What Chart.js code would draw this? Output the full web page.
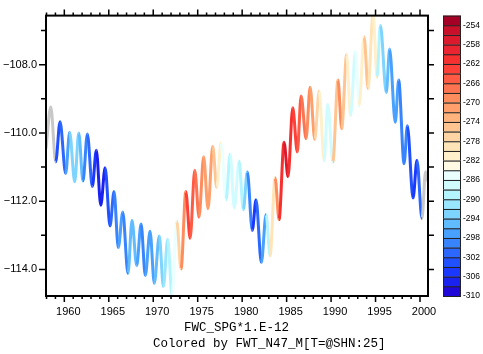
<!DOCTYPE html>
<html>
<head>
<meta charset="utf-8">
<script src="https://cdn.jsdelivr.net/npm/chart.js@4.4.1/dist/chart.umd.min.js"></script>
<style>
html, body { margin: 0; padding: 0; background: #fff; }
canvas { display: block; }
</style>
</head>
<body>
<canvas id="graficoFwc" width="483" height="354"></canvas>
<script>
// turning points of FWC_SPG*1.E-12 (decimal year, value) and colour variable at each point
const anos = [
  1957.94, 1958.48, 1959.03, 1959.52, 1960.15, 1960.60, 1961.17, 1961.62, 1962.10, 1962.59,
  1963.15, 1963.60, 1964.10, 1964.59, 1965.14, 1965.59, 1966.07, 1966.57, 1967.16, 1967.61,
  1968.14, 1968.63, 1969.11, 1969.64, 1970.12, 1970.68, 1971.14, 1971.63, 1972.11, 1972.64,
  1973.13, 1973.66, 1974.15, 1974.67, 1975.15, 1975.67, 1976.16, 1976.69, 1977.14, 1977.63,
  1978.19, 1978.65, 1979.12, 1979.65, 1980.13, 1980.58, 1981.14, 1981.56, 1982.16, 1982.69,
  1983.14, 1983.70, 1984.15, 1984.71, 1985.16, 1985.69, 1986.20, 1986.63, 1987.19, 1987.64,
  1988.17, 1988.66, 1989.22, 1989.63, 1990.20, 1990.77, 1991.20, 1991.75, 1992.19, 1992.74,
  1993.15, 1993.71, 1994.16, 1994.72, 1995.17, 1995.54, 1996.21, 1996.58, 1997.22, 1997.60,
  1998.21, 1998.58, 1999.22, 1999.66, 2000.22, 2000.62, 2000.90
];
const fwc = [
  -110.46, -109.24, -110.85, -109.67, -111.19, -109.98, -111.43, -110.00, -111.41, -110.03,
  -111.57, -110.51, -112.12, -111.02, -112.73, -111.72, -113.36, -112.32, -114.12, -112.57,
  -113.89, -112.67, -114.18, -112.88, -114.41, -113.02, -114.50, -113.12, -114.76, -112.59,
  -113.99, -111.72, -113.09, -111.09, -112.47, -110.70, -112.22, -110.39, -111.60, -110.29,
  -111.96, -110.62, -112.20, -110.82, -112.25, -111.14, -112.86, -111.96, -113.80, -112.39,
  -113.60, -111.31, -112.54, -110.27, -111.28, -109.26, -110.56, -108.92, -110.17, -108.66,
  -110.19, -108.77, -110.82, -109.16, -110.85, -108.45, -109.88, -107.71, -109.50, -107.61,
  -109.21, -107.18, -108.70, -106.50, -108.36, -106.84, -108.82, -107.54, -109.69, -108.45,
  -110.90, -109.79, -111.91, -110.80, -112.51, -111.14, -111.43
];
const fwt = [
  null, null, -303, -301, -297, -293, -293, -295, -299, -301,
  -305, -307, -307, -303, -301, -299, -297, -299, -295, -295,
  -297, -299, -297, -297, -295, -293, -291, -289, -285, -277,
  -269, -263, -265, -267, -269, -271, -271, -275, -281, -285,
  -289, -287, -287, -289, -293, -299, -305, -301, -297, -289,
  -279, -269, -261, -257, -261, -263, -265, -267, -269, -271,
  -277, -281, -287, -287, -275, -269, -275, -281, -287, -285,
  -281, -275, -279, -281, -289, -293, -295, -297, -297, -299,
  -299, -303, -305, -301, null, null, null
];

// colour key: boundaries and one colour per box, top (high) to bottom (low)
const niveis = [];
for (let n = -254; n >= -310; n -= 2) niveis.push(n);
const cores = [
  '#a50026', '#c8102a', '#dc1a2e', '#ea2430', '#f6302f', '#fe4038', '#ff5a44', '#ff7450',
  '#ff8c5c', '#ffa06c', '#ffb47e', '#ffc490', '#ffd4a4', '#ffe4b8', '#fff0cc', '#fffae4',
  '#eaffff', '#d0fcff', '#b4f4ff', '#98e6ff', '#7cd4ff', '#60bcff', '#48a0ff', '#3884ff',
  '#2c68ff', '#2050ff', '#1a38ff', '#1a22f0', '#2008d8'
];
const semValor = '#c8c8c8';

function corDe(v) {
  if (v === null || v === undefined) return semValor;
  let i = 0;
  while (i < niveis.length && v <= niveis[i]) i++;
  return cores[Math.min(i, cores.length - 1)];
}

const moldura = {
  id: 'moldura',
  afterDraw(chart) {
    const { ctx, chartArea: a, scales: { x, y } } = chart;
    ctx.save();
    ctx.strokeStyle = '#000';
    ctx.lineWidth = 1.5;
    ctx.beginPath();
    for (let ano = Math.ceil(x.min); ano <= x.max; ano++) {
      const px = x.getPixelForValue(ano);
      const len = ano % 5 === 0 ? 6 : 3;
      ctx.moveTo(px, a.bottom); ctx.lineTo(px, a.bottom + len);
      ctx.moveTo(px, a.top); ctx.lineTo(px, a.top - len);
    }
    for (let v = Math.ceil(y.min); v <= y.max; v++) {
      const py = y.getPixelForValue(v);
      const len = v % 2 === 0 ? 7 : 5;
      ctx.moveTo(a.left, py); ctx.lineTo(a.left - len, py);
      ctx.moveTo(a.right, py); ctx.lineTo(a.right + 6, py);
    }
    ctx.stroke();
    ctx.lineWidth = 2;
    ctx.strokeRect(a.left, a.top, a.width, a.height);

    // colour key
    const kx = 443, kw = 18, kh = a.height / cores.length;
    ctx.lineWidth = 1;
    ctx.strokeStyle = '#222';
    cores.forEach((c, i) => {
      ctx.fillStyle = c;
      ctx.fillRect(kx, a.top + i * kh, kw, kh);
      ctx.strokeRect(kx + 0.5, a.top + i * kh + 0.5, kw - 1, kh);
    });
    ctx.fillStyle = '#000';
    ctx.font = "8.5px 'Liberation Sans', Arial, sans-serif";
    ctx.textAlign = 'left';
    ctx.textBaseline = 'middle';
    niveis.forEach((n, k) => {
      if (k % 2 === 0) ctx.fillText(String(n), kx + kw + 2, a.top + (k + 1) * kh);
    });

    // labels under the plot
    ctx.font = "12.5px 'Liberation Mono', 'DejaVu Sans Mono', monospace";
    ctx.fillText('FWC_SPG*1.E-12', 184, 328);
    ctx.fillText('Colored by FWT_N47_M[T=@SHN:25]', 153, 343.5);
    ctx.restore();
  }
};

Chart.defaults.font.family = "'Liberation Sans', Arial, sans-serif";
Chart.defaults.font.size = 11;
Chart.defaults.color = '#000';

const ctx = document.getElementById('graficoFwc').getContext('2d');
new Chart(ctx, {
  type: 'line',
  data: {
    datasets: [{
      data: anos.map((a, i) => ({ x: a, y: fwc[i] })),
      borderWidth: 3,
      pointRadius: 0,
      cubicInterpolationMode: 'monotone',
      clip: 0,
      segment: {
        borderColor: c => corDe(fwt[c.p0DataIndex])
      }
    }]
  },
  options: {
    responsive: false,
    animation: false,
    layout: { padding: { top: 12, right: 55, left: 0, bottom: 0 } },
    plugins: { legend: { display: false }, tooltip: { enabled: false } },
    scales: {
      x: {
        type: 'linear',
        min: 1957.94,
        max: 2000.9,
        afterFit: s => { s.height = 58; },
        grid: { display: false, drawTicks: false },
        border: { display: false },
        ticks: {
          stepSize: 5,
          includeBounds: false,
          autoSkip: false,
          maxRotation: 0,
          padding: 9,
          labelOffset: 4,
          callback: v => String(Math.round(v))
        }
      },
      y: {
        min: -114.78,
        max: -106.56,
        afterFit: s => { s.width = 46; },
        grid: { display: false, drawTicks: false },
        border: { display: false },
        ticks: {
          stepSize: 1,
          includeBounds: false,
          autoSkip: false,
          padding: 9,
          callback: v => (Math.round(v) % 2 === 0 ? '\u2212' + Math.abs(v).toFixed(1) : '')
        }
      }
    }
  },
  plugins: [moldura]
});
</script>
</body>
</html>
